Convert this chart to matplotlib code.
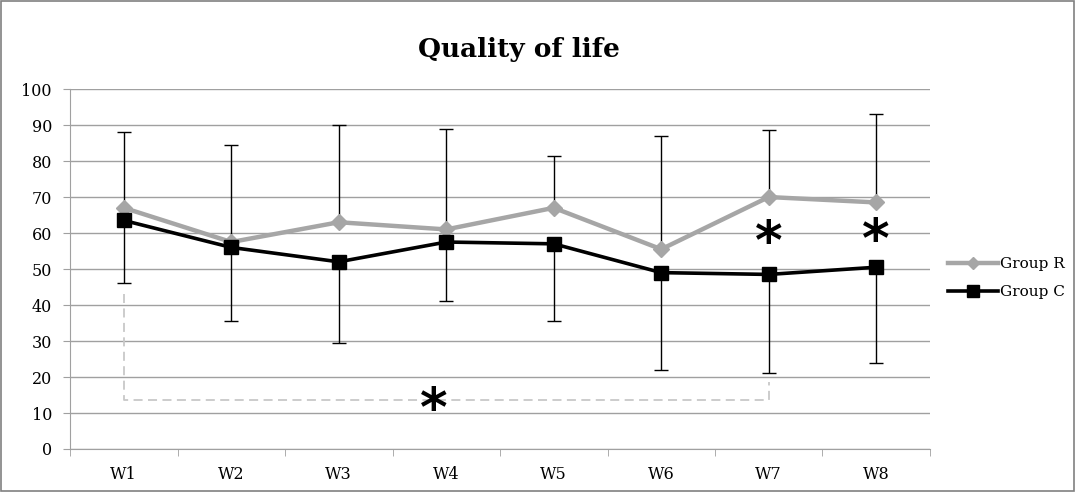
import numpy as np
import matplotlib.pyplot as plt
from matplotlib.patches import Rectangle

weeks = ['W1', 'W2', 'W3', 'W4', 'W5', 'W6', 'W7', 'W8']
group_r = [67, 57.5, 63, 61, 67, 55.5, 70, 68.5]
group_c = [63.5, 56, 52, 57.5, 57, 49, 48.5, 50.5]
# верхні межі (група R) та нижні межі (група C)
r_upper = [88, 84.5, 90, 89, 81.3, 87, 88.5, 93]
c_lower = [46, 35.5, 29.5, 41, 35.5, 22, 21, 24]

plt.rcParams['font.family'] = ['DejaVu Serif']

fig = plt.figure(figsize=(10.76, 4.92), dpi=100)
ax = fig.add_axes([0.0651, 0.0874, 0.7992, 0.7316])

x = np.arange(len(weeks))
r = np.array(group_r)
c = np.array(group_c)

ax.errorbar(x, r, yerr=[np.zeros_like(r), np.array(r_upper) - r], fmt='none',
            ecolor='black', elinewidth=1, capsize=5, capthick=1, zorder=2)
ax.errorbar(x, c, yerr=[c - np.array(c_lower), np.zeros_like(c)], fmt='none',
            ecolor='black', elinewidth=1, capsize=5, capthick=1, zorder=2)

ax.plot(x, r, color='#a6a6a6', lw=3.2, marker='D', ms=8, label='Group R', zorder=3)
ax.plot(x, c, color='black', lw=2.6, marker='s', ms=10, label='Group C', zorder=4)

# пунктирна дужка W1 - W7
ax.plot([0, 0, 6, 6], [43, 13.7, 13.7, 18.5], color='#c8c8c8', lw=1.3,
        ls=(0, (5, 3)), zorder=1)

for xs, ys in [(2.88, 10.5), (6, 57), (7, 57.5)]:
    ax.text(xs, ys, '*', fontsize=38, fontweight='bold', ha='center', va='center',
            family='DejaVu Sans')

ax.set_xlim(-0.5, 7.5)
ax.set_ylim(0, 100)
ax.set_yticks(range(0, 101, 10))
ax.set_xticks(x, labels=weeks)
ax.set_xticks(np.arange(-0.5, 8, 1), minor=True)
ax.tick_params(axis='x', which='major', length=0, pad=12, labelsize=11.5)
ax.tick_params(axis='x', which='minor', length=5, color='#a0a0a0')
ax.tick_params(axis='y', length=5, color='#a0a0a0', labelsize=11.5, pad=8)
ax.yaxis.grid(True, color='#a0a0a0', lw=1)
ax.set_axisbelow(True)
ax.spines[['top', 'right']].set_visible(False)
ax.spines[['left', 'bottom']].set_color('#a0a0a0')

fig.text(0.482, 0.9, 'Quality of life', ha='center', va='center',
         fontsize=19, fontweight='bold')

ax.legend(loc='center left', bbox_to_anchor=(1.005, 0.475), frameon=False,
          fontsize=11, handlelength=3.3, handletextpad=0.1, labelspacing=0.9,
          markerscale=0.8)

fig.patches.append(Rectangle((0.001, 0.002), 0.997, 0.995, transform=fig.transFigure,
                             fill=False, edgecolor='#808080', lw=1.2))

fig.savefig('out.png', dpi=100)
